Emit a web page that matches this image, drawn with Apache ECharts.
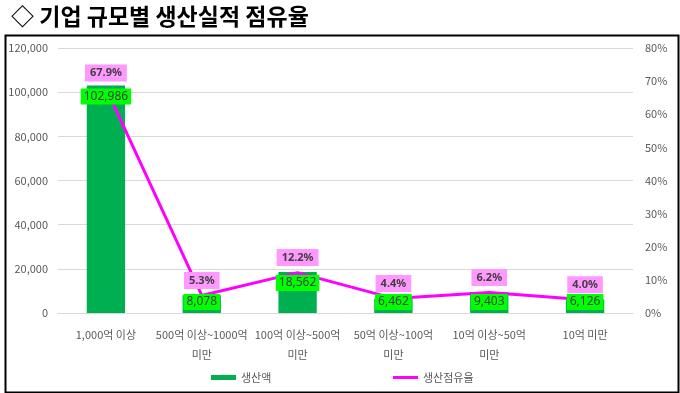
<!DOCTYPE html>
<html><head><meta charset="utf-8">
<script src="https://cdn.jsdelivr.net/npm/echarts@6/dist/echarts.min.js"></script>
<style>html,body{margin:0;padding:0;background:#fff}#c{width:680px;height:393px}</style>
</head><body><div id="c"></div>
<script>
const categories = ['1,000억 이상', '500억 이상~1000억\n미만', '100억 이상~500억\n미만', '50억 이상~100억\n미만', '10억 이상~50억\n미만', '10억 미만'];
const production = [102986, 8078, 18562, 6462, 9403, 6126];
const share = [67.9, 5.3, 12.2, 4.4, 6.2, 4.0];
const leftTicks = {min: 0, max: 120000, interval: 20000};
const rightTicks = {min: 0, max: 80, interval: 10};

const FONT = '"Noto Sans CJK KR", "Noto Sans", sans-serif';
const NUMFONT = '"Noto Sans", "Open Sans", sans-serif';
const chart = echarts.init(document.getElementById('c'));
chart.setOption({
  animation: false,
  textStyle: {fontFamily: FONT},
  title: {
    text: '◇ 기업 규모별 생산실적 점유율',
    left: 6, top: 0,
    textStyle: {fontSize: 23, fontWeight: 'bold', color: '#000', fontFamily: FONT}
  },
  graphic: [{
    type: 'rect', left: 3, top: 33, shape: {width: 673, height: 357},
    style: {fill: 'none', stroke: '#000', lineWidth: 2}, z: 100
  }],
  legend: [
    {data: [{name: '생산액', icon: 'rect'}], left: 206, top: 367, itemWidth: 25, itemHeight: 5,
     textStyle: {color: '#595959', fontSize: 11, fontFamily: FONT}},
    {data: [{name: '생산점유율', icon: 'rect'}], left: 388, top: 367, itemWidth: 25, itemHeight: 3,
     textStyle: {color: '#595959', fontSize: 11, fontFamily: FONT}}
  ],
  grid: {left: 58, right: 47, top: 48, bottom: 80},
  xAxis: {
    type: 'category', data: categories,
    axisLine: {lineStyle: {color: '#d9d9d9'}},
    axisTick: {show: false},
    axisLabel: {color: '#595959', fontSize: 11, margin: 12, lineHeight: 20, interval: 0, fontFamily: FONT}
  },
  yAxis: [
    {type: 'value', min: leftTicks.min, max: leftTicks.max, interval: leftTicks.interval,
     axisLabel: {color: '#595959', fontSize: 11, margin: 10,
       formatter: v => v.toLocaleString('en-US')},
     splitLine: {lineStyle: {color: '#d9d9d9'}},
     axisLine: {show: false}, axisTick: {show: false}},
    {type: 'value', min: rightTicks.min, max: rightTicks.max, interval: rightTicks.interval,
     axisLabel: {color: '#595959', fontSize: 11, margin: 12, formatter: v => v + '%'},
     splitLine: {show: false}, axisLine: {show: false}, axisTick: {show: false}}
  ],
  series: [
    {name: '생산액', type: 'bar', data: production, barWidth: '40%', z: 2,
     itemStyle: {color: '#00b050'}},
    {name: '생산점유율', type: 'line', yAxisIndex: 1, data: share,
     symbol: 'circle', symbolSize: 1, showSymbol: true,
     lineStyle: {color: '#ff00ff', width: 3}, itemStyle: {color: '#ff00ff'},
     z: 3,
     label: {show: true, position: 'top', distance: 6,
       formatter: p => p.value.toFixed(1) + '%',
       backgroundColor: '#ff99ff', color: '#404040', fontWeight: 'bold', fontSize: 11,
       padding: [3, 5], fontFamily: NUMFONT}},
    {name: 'barLabels', type: 'bar', data: production, barWidth: '40%', barGap: '-100%', z: 5,
     itemStyle: {color: 'rgba(0,0,0,0)'}, tooltip: {show: false}, legendHoverLink: false,
     label: {show: true, position: 'insideTop', distance: 3,
       formatter: p => p.value.toLocaleString('en-US'),
       backgroundColor: '#00ff00', color: '#404040', fontSize: 12,
       padding: [2, 3], fontFamily: NUMFONT},
     labelLayout: p => {
       const base = chart.convertToPixel({yAxisIndex: 0}, 0);
       const r = p.labelRect;
       const limit = base - 3;
       if (r.y + r.height > limit) return {dy: limit - (r.y + r.height)};
       return {};
     }}
  ]
});
</script></body></html>
